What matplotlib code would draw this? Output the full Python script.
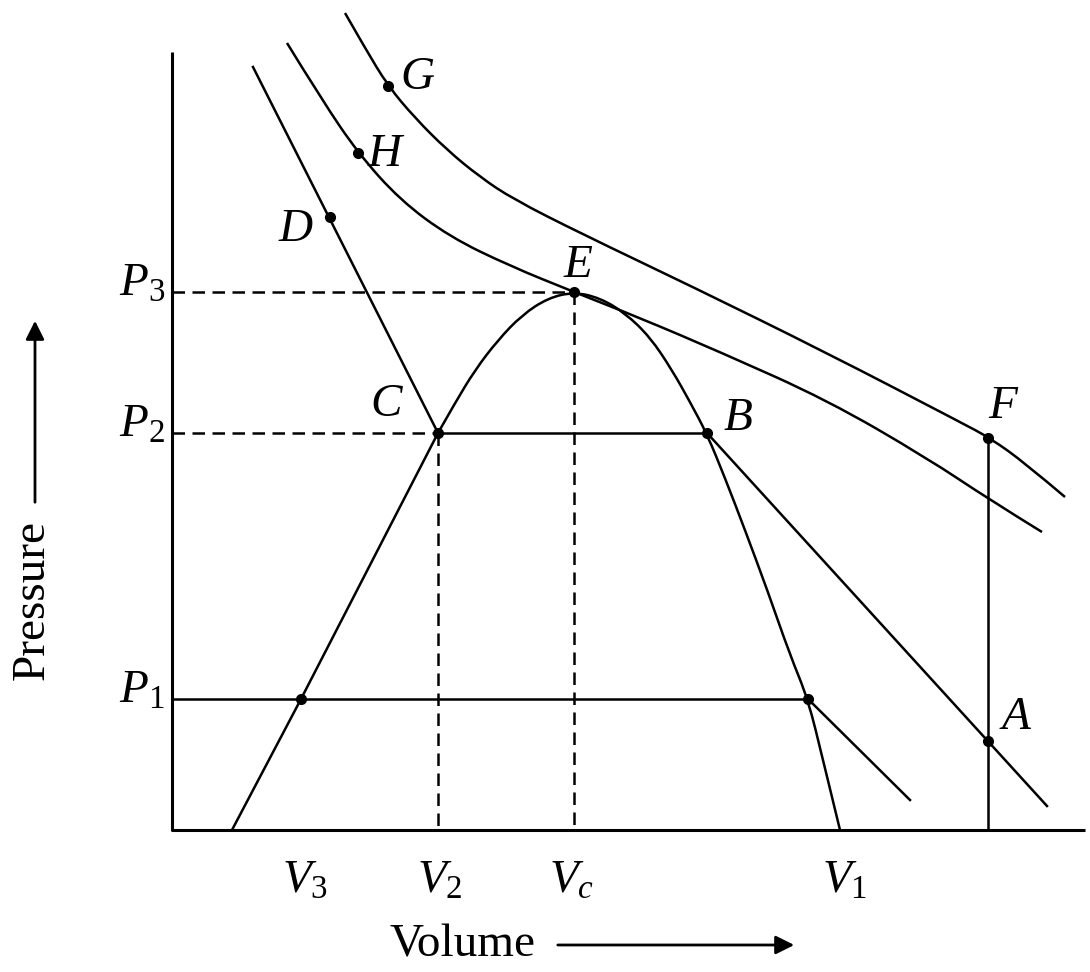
import matplotlib.pyplot as plt
from matplotlib.path import Path
from matplotlib.patches import PathPatch

plt.rcParams['font.family'] = ['Liberation Serif', 'DejaVu Serif']
plt.rcParams['mathtext.fontset'] = 'custom'
plt.rcParams['mathtext.rm'] = 'Liberation Serif'
plt.rcParams['mathtext.it'] = 'Liberation Serif:italic'

# diagram coordinates (pixel-like units, y grows downward)
dome_x = [232, 301, 438, 455, 475, 498, 522, 548, 574, 600, 625, 650, 672, 690, 707,
          725, 745, 768, 790, 808, 823, 840]
dome_y = [830, 699, 433, 403, 370, 340, 315, 298, 292, 298, 313, 337, 370, 402, 434,
          478, 530, 592, 655, 699, 760, 830]

iso_h_x = [287, 322, 358, 400, 450, 510, 574, 640, 720, 827, 927, 990, 1042]
iso_h_y = [43, 100, 153, 200, 237, 266, 292, 318, 352, 400, 458, 500, 532]

iso_g_x = [345, 365, 388, 415, 447, 480, 513, 580, 693, 827, 960, 990, 1025, 1065]
iso_g_y = [13, 48, 86, 118, 150, 177, 199, 233, 287, 353, 422, 438, 463, 497]

straight = [
    ([253, 438], [67, 433]),     # D -> C
    ([438, 707], [433, 433]),    # C -> B
    ([172, 808], [699, 699]),    # P1 line
    ([707, 1047], [433, 806]),   # B -> A
    ([808, 910], [699, 800]),
    ([988, 988], [437, 830]),    # F -> axis
]
dashed = [
    ([172, 574], [292, 292]),
    ([574, 574], [292, 830]),
    ([172, 438], [433, 433]),
    ([438, 438], [433, 830]),
]

pt_x = [388, 358, 330, 574, 438, 707, 988, 988, 301, 808]
pt_y = [86, 153, 217, 292, 433, 433, 438, 741, 699, 699]

letters = ['G', 'H', 'D', 'E', 'C', 'B', 'F', 'A']
letter_x = [417, 385, 296, 578, 386, 738, 1003, 1016]
letter_y = [78, 155, 230, 266, 405, 419, 407, 718]

p_labels = [r'$P_3$', r'$P_2$', r'$P_1$']
p_y = [292, 433, 699]
v_labels = [r'$V_3$', r'$V_2$', r'$V_c$', r'$V_1$']
v_x = [305, 440, 572, 845]


def smooth(ax, xs, ys, lw=1.8):
    # quadratic b-spline through the traced points
    verts = [(xs[0], ys[0])]
    codes = [Path.MOVETO]
    for i in range(1, len(xs) - 1):
        mx = (xs[i] + xs[i + 1]) / 2
        my = (ys[i] + ys[i + 1]) / 2
        if i == len(xs) - 2:
            mx, my = xs[i + 1], ys[i + 1]
        verts += [(xs[i], ys[i]), (mx, my)]
        codes += [Path.CURVE3, Path.CURVE3]
    ax.add_patch(PathPatch(Path(verts, codes), fill=False, lw=lw, color='black'))


fig = plt.figure(figsize=(10.9, 9.72), dpi=100)
ax = fig.add_axes([0, 0, 1, 1])
ax.set_xlim(0, 1090)
ax.set_ylim(972, 0)
ax.axis('off')

# axes
ax.plot([172, 172, 1085], [52, 830, 830], color='black', lw=2.2, solid_capstyle='butt')

# left branch of the dome is straight up to C
ax.plot(dome_x[:3], dome_y[:3], color='black', lw=1.8)
smooth(ax, dome_x[2:], dome_y[2:])
smooth(ax, iso_h_x, iso_h_y)
smooth(ax, iso_g_x, iso_g_y)

for xs, ys in straight:
    ax.plot(xs, ys, color='black', lw=1.8)
for xs, ys in dashed:
    ax.plot(xs, ys, color='black', lw=1.8, dashes=(5, 3))

ax.plot(pt_x, pt_y, 'o', color='black', markersize=7)

for s, x, y in zip(letters, letter_x, letter_y):
    ax.text(x, y, s, fontsize=34, style='italic', ha='center', va='center')

for s, y in zip(p_labels, p_y):
    ax.text(165, y + 4, s, fontsize=34, ha='right', va='baseline')
for s, x in zip(v_labels, v_x):
    ax.text(x, 893, s, fontsize=34, ha='center', va='baseline')

ax.text(462, 945, 'Volume', fontsize=34, ha='center', va='center')
ax.annotate('', xy=(797, 945), xytext=(555, 945),
            arrowprops=dict(arrowstyle='-|>', lw=2, color='black', mutation_scale=28))
ax.text(32, 600, 'Pressure', fontsize=34, rotation=90, ha='center', va='center')
ax.annotate('', xy=(35, 318), xytext=(35, 505),
            arrowprops=dict(arrowstyle='-|>', lw=2, color='black', mutation_scale=28))

fig.savefig('out.png', dpi=100)
